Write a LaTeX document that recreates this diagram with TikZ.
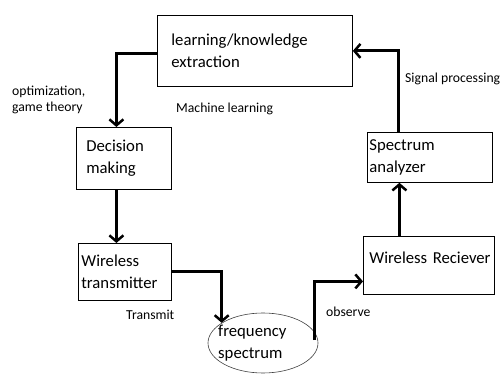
\documentclass[tikz,border=0pt]{standalone}
\usepackage{fontspec}
\setmainfont{Carlito}
\usetikzlibrary{arrows.meta,shapes.geometric}
\begin{document}
\begin{tikzpicture}[x=1pt,y=-1pt,
  box/.style={draw, line width=0.8pt, anchor=north west, align=left,
    font=\fontsize{16.7}{22}\selectfont, inner ysep=0pt},
  lbl/.style={anchor=west, inner sep=0pt, align=left, font=\fontsize{13.7}{16}\selectfont},
  conn/.style={line width=3pt, -{Straight Barb[length=6pt,width=14pt,line width=2.5pt]}}]
\useasboundingbox (0,0) rectangle (503,374);
% boxes
\node[box, text width=167pt, inner xsep=14pt, minimum height=71pt] (learn) at (157,15) {learning/knowledge\\extraction};
\node[box, text width=75pt, inner xsep=10pt, minimum height=62pt] (dec) at (76,127) {Decision\\making};
\node[box, text width=87pt, inner xsep=3pt, minimum height=57pt] (tx) at (78,243) {Wireless\\transmitter};
\node[box, text width=121pt, inner xsep=2pt, minimum height=50pt] (sa) at (367,132) {Spectrum\\analyzer};
\node[box, text width=119pt, inner xsep=6pt, minimum height=58pt] (rx) at (363,236) {\makebox[119pt][l]{Wireless Reciever}\\[-6pt]\mbox{}};
% ellipse
\node[ellipse, draw=black!75, line width=0.6pt, minimum width=110pt, minimum height=60pt] (fs) at (263,343) {};
\node[anchor=west, align=left, inner sep=0pt, font=\fontsize{16.7}{22}\selectfont] (fstext) at (218,343.5) {frequency\\spectrum};
% connectors
\draw[conn] ([yshift=-2.5pt]learn.west) -| ([xshift=-7.5pt]dec.north);
\draw[conn] ([xshift=-7.5pt]dec.south) -- ([xshift=-7.5pt]dec.south |- tx.north);
\draw[conn] (tx.east) -| (fs.154);
\draw[conn] ([xshift=-4pt,yshift=3pt]fs.east) |- ([yshift=-16pt]rx.west);
\draw[conn] ([xshift=-29.5pt]rx.north) -- ([xshift=-29.5pt]rx.north |- sa.south);
\draw[conn] ([xshift=-31.5pt]sa.north) |- (learn.east);
% labels
\node[lbl] (opt) at (12,100) {optimization,\\game theory};
\node[lbl] (ml) at (176,109) {Machine learning};
\node[lbl] (sp) at (405,79) {Signal processing};
\node[lbl] (tr) at (126,315) {Transmit};
\node[lbl] (ob) at (326,312) {observe};
\end{tikzpicture}
\end{document}
